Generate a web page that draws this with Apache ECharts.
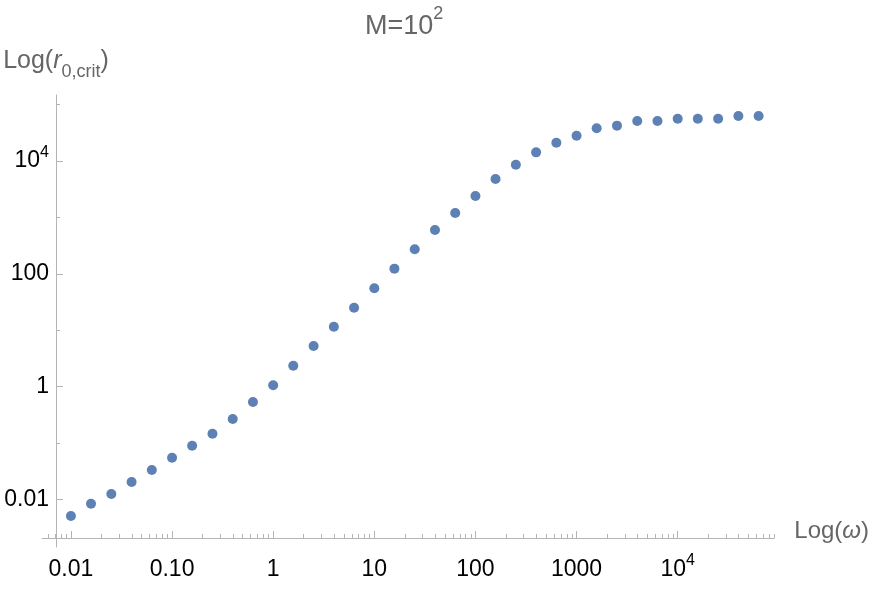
<!DOCTYPE html>
<html>
<head>
<meta charset="utf-8">
<script src="https://cdn.jsdelivr.net/npm/echarts@6/dist/echarts.min.js"></script>
<style>
  html, body { margin: 0; padding: 0; background: #fff; }
  #main { width: 872px; height: 589px; }
</style>
</head>
<body>
<div id="main"></div>
<script>
// omega (x) and critical r0 (y)
const omega = [0.01, 0.0158, 0.0251, 0.0398, 0.0631, 0.1, 0.158, 0.251, 0.398, 0.631,
  1, 1.58, 2.51, 3.98, 6.31, 10, 15.8, 25.1, 39.8, 63.1,
  100, 158, 251, 398, 631, 1000, 1580, 2510, 3980, 6310,
  10000, 15800, 25100, 39800, 63100]
const r0crit = [0.0051, 0.0084, 0.0125, 0.0204, 0.0333, 0.0551, 0.0899, 0.147, 0.268, 0.535,
  1.06, 2.36, 5.27, 11.6, 25.2, 55.6, 124, 273, 600, 1200,
  2400, 4820, 8640, 14300, 21200, 28200, 38200, 42500, 51400, 51400,
  56500, 56500, 56500, 63000, 63000]

// ticks
const xMajor = [0.01, 0.1, 1, 10, 100, 1000, 10000]
const xMajorLabels = ['{n|0.01}', '{n|0.10}', '{n|1}', '{n|10}', '{n|100}', '{n|1000}', '{n|10}{p|4}']
const xMinorMult = [2, 3, 4, 5, 6, 7, 8, 9]
const xMinorDecades = [0.001, 0.01, 0.1, 1, 10, 100, 1000, 10000]
const yMajor = [0.01, 1, 100, 10000]
const yMajorLabels = ['{n|0.01}', '{n|1}', '{n|100}', '{n|10}{p|4}']
const yMinor = [0.1, 10, 1000, 100000]

// visible range, log10 units
const xRange = [-2.286, 4.955]
const yRange = [-2.842, 5.172]

const lg = v => Math.log10(v)
const xMinor = []
xMinorDecades.forEach(d => xMinorMult.forEach(m => xMinor.push(lg(m * d))))

const font = 'Liberation Sans, Arial, sans-serif'
const gray = '#b4b4b4'
const labelRich = {
  n: { fontSize: 23, lineHeight: 33, color: '#000', fontFamily: font, verticalAlign: 'middle' },
  p: { fontSize: 16, lineHeight: 16, color: '#000', fontFamily: font, verticalAlign: 'top' }
}
function labelFor (vals, labels) {
  return v => {
    const i = vals.findIndex(t => Math.abs(lg(t) - v) < 1e-6)
    return i < 0 ? '' : labels[i]
  }
}

const chart = echarts.init(document.getElementById('main'))
chart.setOption({
  animation: false,
  title: {
    text: '{t|M=10}{s|2}',
    left: 360,
    top: 0,
    textStyle: {
      fontWeight: 'normal',
      rich: {
        t: { fontSize: 27, lineHeight: 44, color: '#666', fontFamily: font, verticalAlign: 'middle' },
        s: { fontSize: 18, lineHeight: 18, color: '#666', fontFamily: font, verticalAlign: 'top' }
      }
    }
  },
  grid: { left: 42, right: 97, top: 95, bottom: 42 },
  xAxis: [
    {
      type: 'value', position: 'bottom', min: xRange[0], max: xRange[1], offset: -9,
      axisLine: { onZero: false, lineStyle: { color: gray, width: 1 } },
      axisTick: { inside: true, length: 7, customValues: xMajor.map(lg), lineStyle: { color: gray } },
      axisLabel: { margin: 15, customValues: xMajor.map(lg), formatter: labelFor(xMajor, xMajorLabels), rich: labelRich },
      splitLine: { show: false },
      name: '{a|Log(}{g|ω}{a|)}',
      nameLocation: 'end',
      nameGap: 20,
      nameTextStyle: {
        padding: [0, 0, 14, 0],
        rich: {
          a: { fontSize: 24, color: '#666', fontFamily: font },
          g: { fontSize: 24, color: '#666', fontFamily: font, fontStyle: 'italic' }
        }
      }
    },
    {
      type: 'value', position: 'bottom', min: xRange[0], max: xRange[1], offset: -9,
      axisLine: { show: false, onZero: false },
      axisTick: { inside: true, length: 4, customValues: xMinor, lineStyle: { color: gray } },
      axisLabel: { show: false },
      splitLine: { show: false }
    }
  ],
  yAxis: [
    {
      type: 'value', position: 'left', min: yRange[0], max: yRange[1], offset: -14,
      axisLine: { onZero: false, lineStyle: { color: gray, width: 1 } },
      axisTick: { inside: true, length: 7, customValues: yMajor.map(lg), lineStyle: { color: gray } },
      axisLabel: { margin: 7, customValues: yMajor.map(lg), formatter: labelFor(yMajor, yMajorLabels), rich: labelRich },
      splitLine: { show: false },
      name: '{a|Log(}{i|r}{b|0,crit}{a|)}',
      nameLocation: 'end',
      nameGap: 14,
      nameTextStyle: {
        rich: {
          a: { fontSize: 25, lineHeight: 32, color: '#666', fontFamily: font, verticalAlign: 'top' },
          i: { fontSize: 25, lineHeight: 32, color: '#666', fontFamily: font, fontStyle: 'italic', verticalAlign: 'top' },
          b: { fontSize: 18, lineHeight: 18, color: '#666', fontFamily: font, verticalAlign: 'bottom' }
        }
      }
    },
    {
      type: 'value', position: 'left', min: yRange[0], max: yRange[1], offset: -14,
      axisLine: { show: false, onZero: false },
      axisTick: { inside: true, length: 4, customValues: yMinor.map(lg), lineStyle: { color: gray } },
      axisLabel: { show: false },
      splitLine: { show: false }
    }
  ],
  series: [
    {
      type: 'scatter',
      symbolSize: 10,
      itemStyle: { color: '#5e81b5', opacity: 1 },
      data: omega.map((w, i) => [lg(w), lg(r0crit[i])])
    }
  ]
})
</script>
</body>
</html>
